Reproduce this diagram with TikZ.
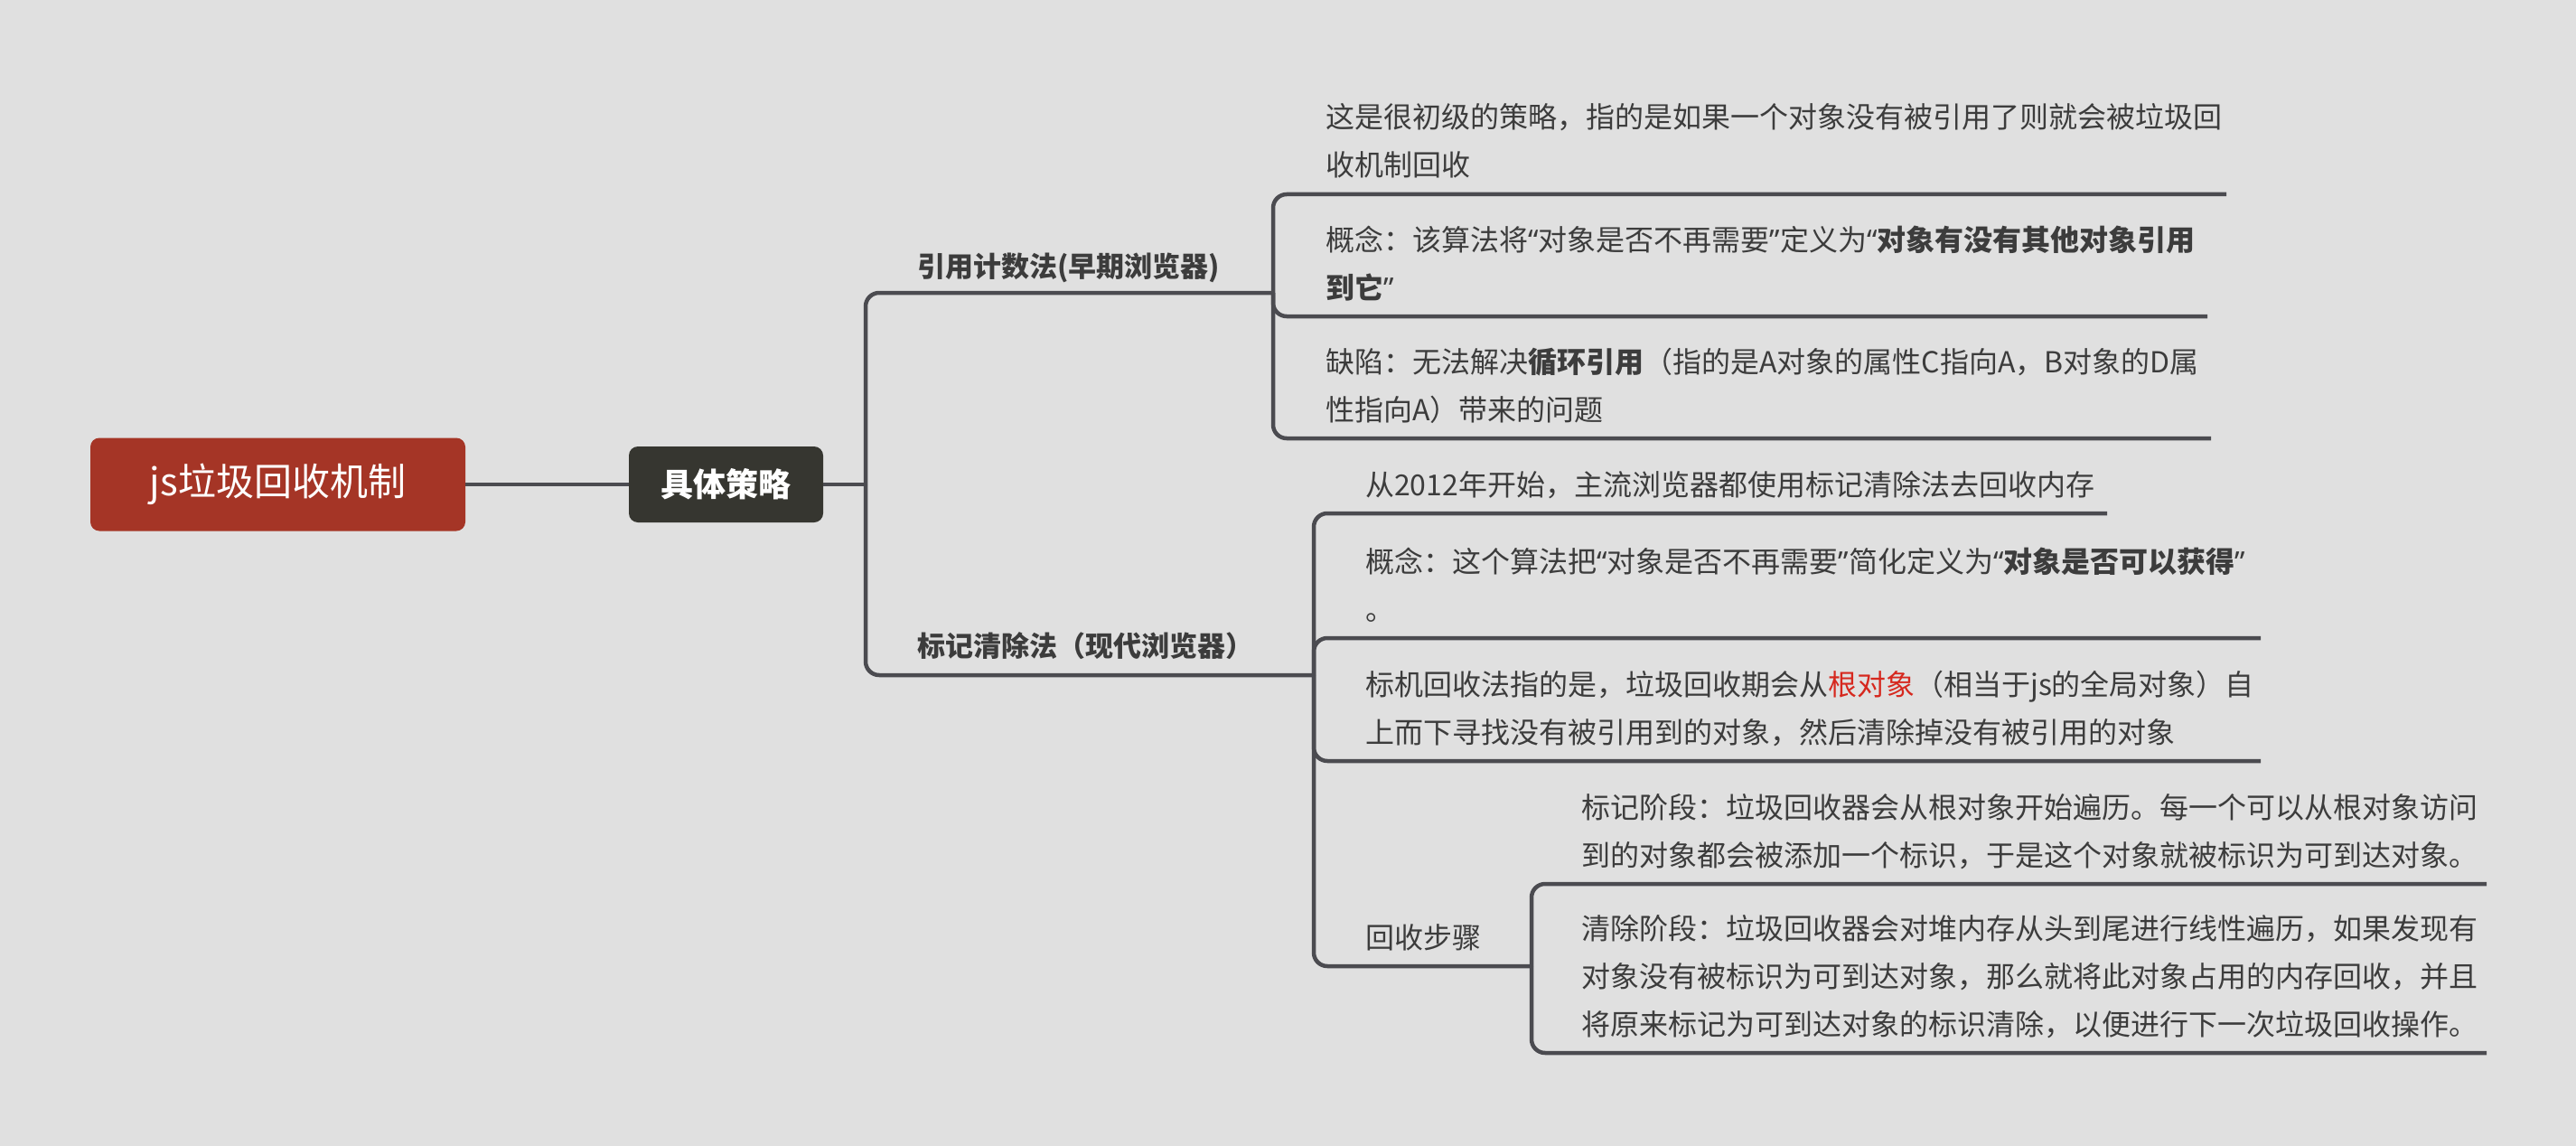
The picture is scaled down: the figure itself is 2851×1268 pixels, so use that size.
\documentclass[tikz,border=0pt]{standalone}
\usepackage{fontspec}
\setmainfont{Noto Sans CJK SC}
\newfontfamily\qfont{Noto Sans}
\newcommand{\oq}{{\qfont “}}
\newcommand{\cq}{{\qfont ”}}
\definecolor{bgcol}{RGB}{224,224,224}
\definecolor{linecol}{RGB}{75,75,80}
\definecolor{textcol}{RGB}{60,60,60}
\definecolor{rootcol}{RGB}{165,53,38}
\definecolor{stratcol}{RGB}{54,54,48}
\definecolor{keyred}{RGB}{214,40,30}
\tikzset{
  conn/.style={draw=linecol, line width=4.5pt, rounded corners=15pt},
  straight/.style={draw=linecol, line width=4.5pt},
  txt/.style={anchor=base west, inner sep=0pt, text=textcol, align=left,
    font=\fontsize{32}{53}\selectfont},
  ttl/.style={anchor=base west, inner sep=0pt, text=textcol, align=left,
    font=\fontsize{31}{53}\selectfont\bfseries},
  rootbox/.style={fill=rootcol, rounded corners=10pt, text=white,
    minimum width=415pt, minimum height=103pt, inner sep=0pt,
    font=\fontsize{42}{50}\selectfont},
  stratbox/.style={fill=stratcol, rounded corners=10pt, text=white,
    minimum width=215pt, minimum height=84pt, inner sep=0pt,
    font=\fontsize{36}{44}\selectfont\bfseries}
}
\begin{document}
\begin{tikzpicture}[x=1pt, y=-1pt]
\useasboundingbox[fill=bgcol] (0,0) rectangle (2851,1268);

% main nodes
\node[rootbox] (root) at (307.5,536) {js垃圾回收机制};
\node[stratbox] (strat) at (803.5,536) {具体策略};

% junctions
\coordinate (j1) at (958,536);
\coordinate (b1end) at (1409,324);
\coordinate (b2end) at (1454,747);
\coordinate (c11end) at (2464,215);
\coordinate (c12end) at (2443,350);
\coordinate (c13end) at (2447,485);
\coordinate (c21end) at (2332,568);
\coordinate (c22end) at (2502,706);
\coordinate (c23end) at (2502,842);
\coordinate (c24end) at (1695,1069);
\coordinate (c31end) at (2752,978);
\coordinate (c32end) at (2752,1165);

% texts (anchor = baseline of the last line)
\node[ttl] (b1) at (1015,306) {引用计数法(早期浏览器)};
\node[ttl] (b2) at (1015,726) {标记清除法（现代浏览器）};

\node[txt] (c11) at (1467,195) {这是很初级的策略，指的是如果一个对象没有被引用了则就会被垃圾回\\收机制回收};
\node[txt] (c12) at (1467,330) {概念：该算法将\oq 对象是否不再需要\cq 定义为\textbf{\oq 对象有没有其他对象引用}\\\textbf{到它\cq}};
\node[txt] (c13) at (1467,465) {缺陷：无法解决\textbf{循环引用}（指的是A对象的属性C指向A，B对象的D属\\性指向A）带来的问题};

\node[txt] (c21) at (1511,548) {从2012年开始，主流浏览器都使用标记清除法去回收内存};
\node[txt] (c22) at (1511,686) {概念：这个算法把\oq 对象是否不再需要\cq 简化定义为\textbf{\oq 对象是否可以获得}\cq\\。};
\node[txt] (c23) at (1511,822) {标机回收法指的是，垃圾回收期会从\textcolor{keyred}{根对象}（相当于js的全局对象）自\\上而下寻找没有被引用到的对象，然后清除掉没有被引用的对象};
\node[txt] (c24) at (1511,1049) {回收步骤};

\node[txt] (c31) at (1750,958) {标记阶段：垃圾回收器会从根对象开始遍历。每一个可以从根对象访问\\到的对象都会被添加一个标识，于是这个对象就被标识为可到达对象。};
\node[txt] (c32) at (1750,1145) {清除阶段：垃圾回收器会对堆内存从头到尾进行线性遍历，如果发现有\\对象没有被标识为可到达对象，那么就将此对象占用的内存回收，并且\\将原来标记为可到达对象的标识清除，以便进行下一次垃圾回收操作。};

% connectors
\draw[straight] (root.east) -- (strat.west);
\draw[straight] (strat.east) -- (j1);
\draw[conn] (j1) |- (b1end);
\draw[conn] (j1) |- (b2end);

\draw[conn] (b1end) |- (c11end);
\draw[conn] (b1end) |- (c12end);
\draw[conn] (b1end) |- (c13end);

\draw[conn] (b2end) |- (c21end);
\draw[conn] (b2end) |- (c22end);
\draw[conn] (b2end) |- (c23end);
\draw[conn] (b2end) |- (c24end);

\draw[conn] (c24end) |- (c31end);
\draw[conn] (c24end) |- (c32end);
\end{tikzpicture}
\end{document}
